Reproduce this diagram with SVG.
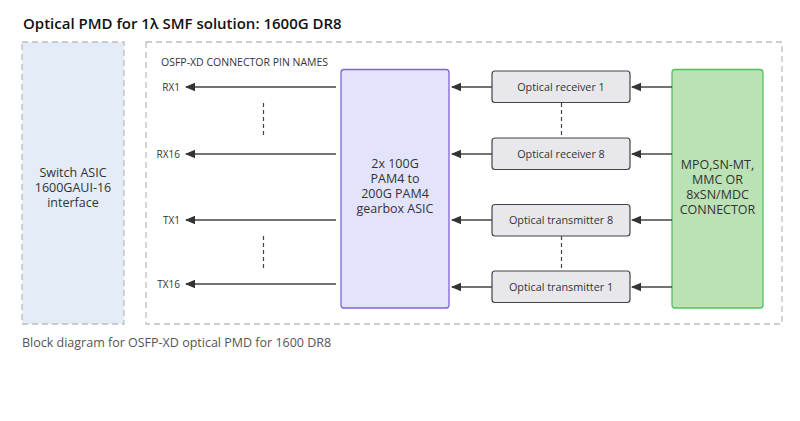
<svg xmlns="http://www.w3.org/2000/svg" width="800" height="421" viewBox="0 0 800 421">
<style>
text{font-family:"Open Sans","Noto Sans","Liberation Sans",sans-serif;fill:#333}
.title{font-size:15px;font-weight:600;fill:#111}
.pin{font-size:10px;fill:#333}
.pinr{font-size:10px;fill:#333;text-anchor:end}
.big{font-size:12.5px;font-weight:500;text-anchor:middle;fill:#333}
.opt{font-size:10.8px;text-anchor:middle;fill:#333}
.cap{font-size:12.5px;fill:#555}
.dash{fill:none;stroke:#bdbdbd;stroke-width:1.3;stroke-dasharray:6 4}
.opbox{fill:#e8e8ec;stroke:#444;stroke-width:1.2}
.conn line{stroke:#444;stroke-width:1.5}
.conn line.dot{stroke:#444;stroke-width:1.2;stroke-dasharray:4 3}
</style>
<defs>
<marker id="ah" markerUnits="userSpaceOnUse" markerWidth="10" markerHeight="10" viewBox="0 0 10 10" refX="9" refY="5" orient="auto">
<path d="M10,5 L0,0.8 L0,9.2 Z" fill="#333"/>
</marker>
</defs>
<rect width="800" height="421" fill="#fff"/>
<text class="title" x="23" y="29">Optical PMD for 1λ SMF solution: 1600G DR8</text>

<g id="switch-asic">
<rect x="22" y="42" width="102" height="282" class="dash" style="fill:#e4ecf7"/>
<text class="big" x="73" y="177">Switch ASIC</text>
<text class="big" x="73" y="192">1600GAUI-16</text>
<text class="big" x="73" y="207">interface</text>
</g>

<g id="module">
<rect x="146" y="42" width="636" height="282" class="dash"/>
<text class="pin" x="161" y="66" style="font-size:10.5px">OSFP-XD CONNECTOR PIN NAMES</text>
</g>

<g id="pins">
<text class="pinr" x="180" y="90.5">RX1</text>
<text class="pinr" x="180" y="157.5">RX16</text>
<text class="pinr" x="180" y="223.5">TX1</text>
<text class="pinr" x="180" y="287.5">TX16</text>
</g>

<g id="gearbox">
<rect x="341" y="69.5" width="108" height="238.5" rx="3" fill="#e3e3fb" stroke="#8064d6" stroke-width="1.3"/>
<text class="big" x="395" y="168">2x 100G</text>
<text class="big" x="395" y="183">PAM4 to</text>
<text class="big" x="395" y="198">200G PAM4</text>
<text class="big" x="395" y="213">gearbox ASIC</text>
</g>

<g id="rx1"><rect x="492" y="71" width="138" height="31.5" rx="3" class="opbox"/><text class="opt" x="561" y="90.5">Optical receiver 1</text></g>
<g id="rx8"><rect x="492" y="138" width="138" height="31.5" rx="3" class="opbox"/><text class="opt" x="561" y="157.5">Optical receiver 8</text></g>
<g id="tx8"><rect x="492" y="204.5" width="138" height="31.5" rx="3" class="opbox"/><text class="opt" x="561" y="224">Optical transmitter 8</text></g>
<g id="tx1"><rect x="492" y="271" width="138" height="31.5" rx="3" class="opbox"/><text class="opt" x="561" y="290.5">Optical transmitter 1</text></g>

<g id="connector">
<rect x="672" y="69.5" width="91" height="238.5" rx="3" fill="#bae2b5" stroke="#52c15a" stroke-width="1.3"/>
<text class="big" x="717.5" y="169">MPO,SN-MT,</text>
<text class="big" x="717.5" y="184">MMC OR</text>
<text class="big" x="717.5" y="199">8xSN/MDC</text>
<text class="big" x="717.5" y="214">CONNECTOR</text>
</g>

<g id="connectors" class="conn">
<line x1="336" y1="87" x2="186" y2="87" marker-end="url(#ah)"/>
<line x1="336" y1="154" x2="186" y2="154" marker-end="url(#ah)"/>
<line x1="336" y1="220" x2="186" y2="220" marker-end="url(#ah)"/>
<line x1="336" y1="284" x2="186" y2="284" marker-end="url(#ah)"/>
<line x1="492" y1="87" x2="452" y2="87" marker-end="url(#ah)"/>
<line x1="492" y1="154" x2="452" y2="154" marker-end="url(#ah)"/>
<line x1="492" y1="220" x2="452" y2="220" marker-end="url(#ah)"/>
<line x1="492" y1="287" x2="452" y2="287" marker-end="url(#ah)"/>
<line x1="672" y1="87" x2="632" y2="87" marker-end="url(#ah)"/>
<line x1="672" y1="154" x2="632" y2="154" marker-end="url(#ah)"/>
<line x1="672" y1="220" x2="632" y2="220" marker-end="url(#ah)"/>
<line x1="672" y1="287" x2="632" y2="287" marker-end="url(#ah)"/>
<line class="dot" x1="263.5" y1="103" x2="263.5" y2="137"/>
<line class="dot" x1="263.5" y1="236" x2="263.5" y2="270"/>
<line class="dot" x1="561.5" y1="103" x2="561.5" y2="138"/>
<line class="dot" x1="561.5" y1="236" x2="561.5" y2="271"/>
</g>

<text class="cap" x="22" y="347">Block diagram for OSFP-XD optical PMD for 1600 DR8</text>
</svg>
